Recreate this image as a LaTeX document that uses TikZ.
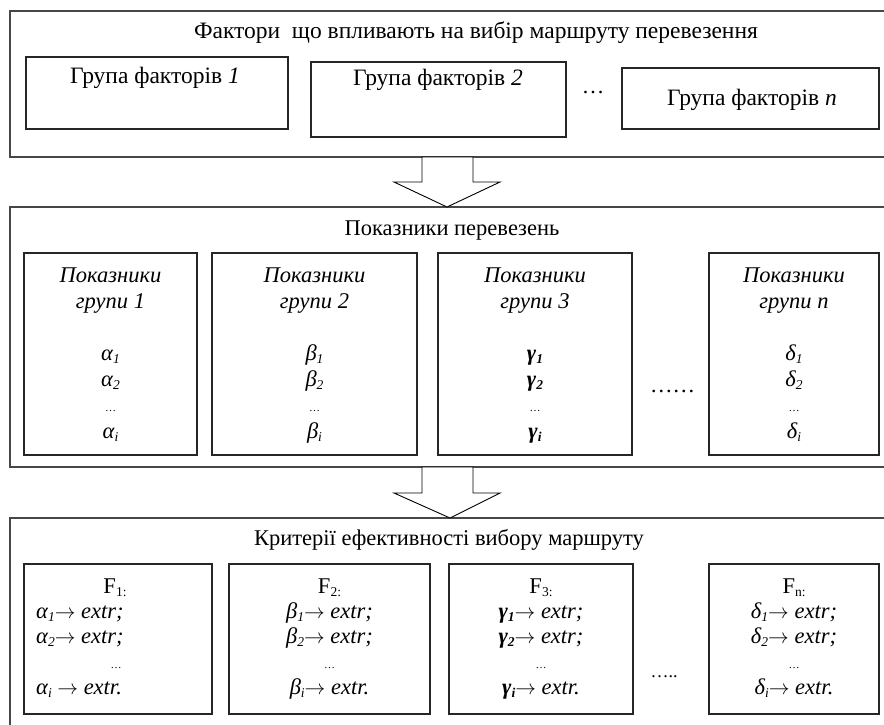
\documentclass[tikz,border=0pt]{standalone}
\usepackage{fontspec}
\setmainfont{Liberation Serif}
\usetikzlibrary{calc}

% small lowered index after a letter
\newcommand\lowidx[1]{\raisebox{-0.14em}{\fontsize{13.5}{13.5}\selectfont #1}}
\newcommand\tinydots{{\fontsize{11}{11}\selectfont …}}
\newcommand\toarr{$\rightarrow$}

\begin{document}
\begin{tikzpicture}[x=1pt,y=-1pt,
  every node/.style={font=\fontsize{22.5}{26}\selectfont},
  big/.style={font=\fontsize{23.5}{26}\selectfont},
  frame/.style={draw=black!72, line width=1.6pt, anchor=north west,
    inner sep=0pt, outer sep=0pt},
  cell/.style={draw=black!85, line width=1.1pt, anchor=north west,
    inner sep=0pt, outer sep=0pt},
  txt/.style={anchor=base, inner sep=0pt},
  ltxt/.style={anchor=base west, inner sep=0pt},
  blockarrow/.style={draw=black, line width=0.9pt, fill=white, line join=miter},
]
\useasboundingbox (0,0) rectangle (884,724);
\clip (0,0) rectangle (884,724);

% ---------- three stacked frames ----------
\node[frame, minimum width=880pt, minimum height=146pt] (factors) at (10,11) {};
\node[frame, minimum width=880pt, minimum height=260pt] (indic) at (10,207) {};
\node[frame, minimum width=880pt, minimum height=230pt] (crit) at (10,518) {};

% ---------- block arrows between the frames ----------
\draw[blockarrow] ($(factors.south west)+(412,0)$) coordinate (s1)
  -- ++(0,25) -- ++(-28,0) -- ($(indic.north west)+(437,0)$)
  -- ($(s1)+(78,25)$) -- ($(s1)+(51,25)$) -- ($(s1)+(51,0)$) -- cycle;
\draw[blockarrow] ($(indic.south west)+(412,0)$) coordinate (s2)
  -- ++(0,26) -- ++(-28,0) -- ($(crit.north west)+(440,0)$)
  -- ($(s2)+(78,26)$) -- ($(s2)+(51,26)$) -- ($(s2)+(51,0)$) -- cycle;

% ---------- frame titles ----------
\node[txt, big] (t1) at (476,38) {Фактори\ \ що впливають на вибір маршруту перевезення};
\node[txt] (t2) at (452,235) {Показники перевезень};
\node[txt] (t3) at (449,545) {Критерії ефективності вибору маршруту};

% ---------- factor groups ----------
\node[cell, minimum width=262pt, minimum height=72pt] (g1) at (26,57) {};
\node[cell, minimum width=255pt, minimum height=75pt] (g2) at (311,62) {};
\node[cell, minimum width=257pt, minimum height=61pt] (g3) at (622,68) {};
\node[txt, big] (g1t) at (155,83) {Група факторів \textit{1}};
\node[txt, big] (g2t) at (438,85) {Група факторів \textit{2}};
\node[txt, big] (g3t) at (752,105) {Група факторів \textit{n}};
\node[txt] (gdots) at (593,93) {…};

% ---------- indicator groups ----------
\node[cell, minimum width=173pt, minimum height=202pt] (p1) at (24,253) {};
\node[cell, minimum width=205pt, minimum height=202pt] (p2) at (212,253) {};
\node[cell, minimum width=194pt, minimum height=202pt] (p3) at (438,253) {};
\node[cell, minimum width=170pt, minimum height=202pt] (p4) at (709,253) {};

\foreach \nm/\cx/\g/\k in {p1/110.5/α/1, p2/314.5/β/2, p3/535/{\bfseries γ}/3, p4/794/δ/n}{
  \node[txt] (\nm a) at (\cx,282) {\itshape Показники};
  \node[txt] (\nm b) at (\cx,308) {\itshape групи \k};
  \node[txt] (\nm c) at (\cx,360) {\itshape\g\lowidx{1}};
  \node[txt] (\nm d) at (\cx,386) {\itshape\g\lowidx{2}};
  \node[txt] (\nm e) at (\cx,411) {\tinydots};
  \node[txt] (\nm f) at (\cx,438) {\itshape\g\lowidx{i}};
}
\node[txt] (pdots) at (672.5,392) {……};

% ---------- efficiency criteria ----------
\node[cell, minimum width=188pt, minimum height=150pt] (f1) at (24,564) {};
\node[cell, minimum width=201pt, minimum height=150pt] (f2) at (229,564) {};
\node[cell, minimum width=184pt, minimum height=150pt] (f3) at (449,564) {};
\node[cell, minimum width=170pt, minimum height=150pt] (f4) at (709,564) {};

\node[txt] (f1a) at (115,593) {F\lowidx{1:}};
\node[ltxt] (f1b) at (36,618) {\textit{α\lowidx{1}\toarr{} extr;}};
\node[ltxt] (f1c) at (36,643) {\textit{α\lowidx{2}\toarr{} extr;}};
\node[txt] (f1d) at (116,668) {\tinydots};
\node[ltxt] (f1e) at (36,694) {\textit{α\lowidx{i} \toarr{} extr.}};

\foreach \nm/\cx/\g/\k in {f2/329.5/β/2, f3/541/{\bfseries γ}/3, f4/794/δ/n}{
  \node[txt] (\nm a) at (\cx,593) {F\lowidx{\k:}};
  \node[txt] (\nm b) at (\cx,618) {\itshape{\g\lowidx{1}}\toarr{} extr;};
  \node[txt] (\nm c) at (\cx,643) {\itshape{\g\lowidx{2}}\toarr{} extr;};
  \node[txt] (\nm d) at (\cx,668) {\tinydots};
  \node[txt] (\nm e) at (\cx,694) {\itshape{\g\lowidx{i}}\toarr{} extr.};
}
\node[txt] (fdots) at (664,677) {\fontsize{18}{18}\selectfont …..};
\end{tikzpicture}
\end{document}
